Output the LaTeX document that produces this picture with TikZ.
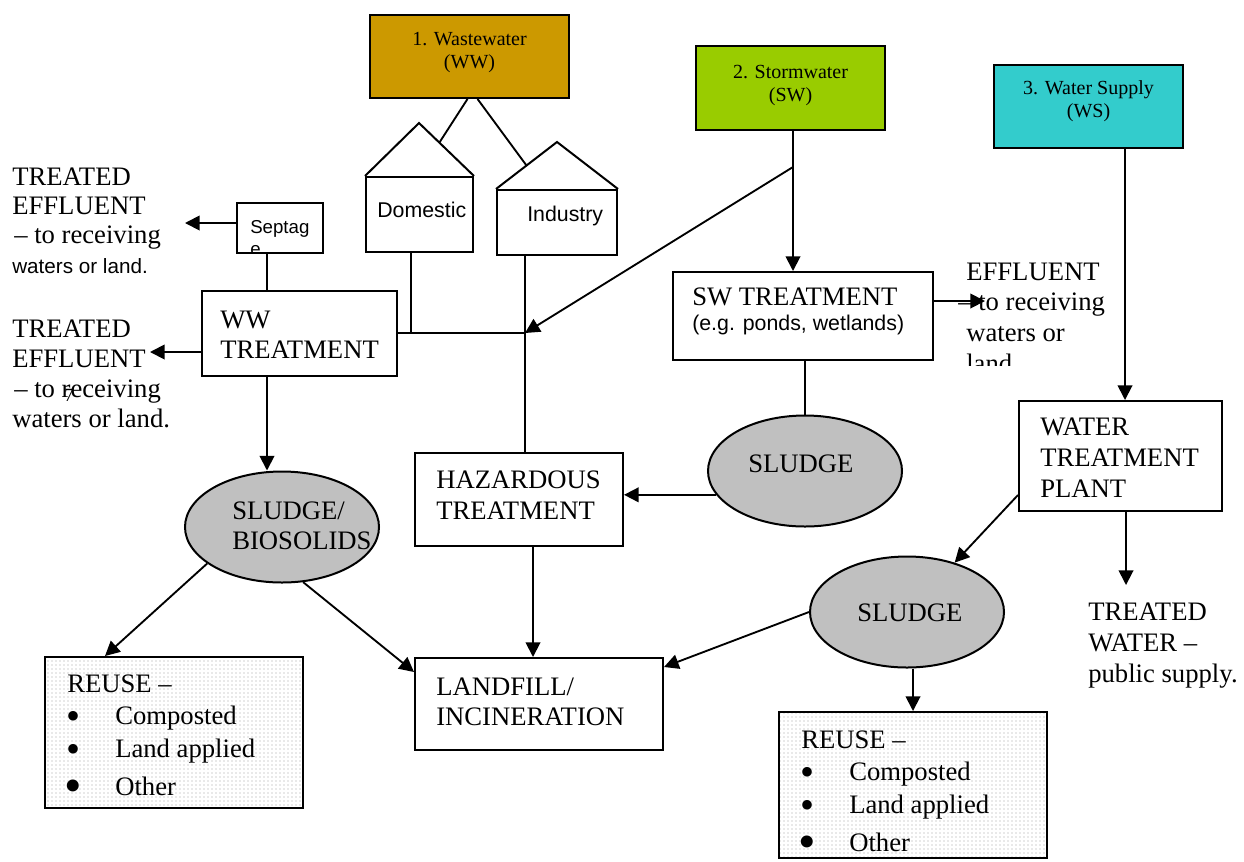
\documentclass[tikz,border=0pt]{standalone}
\usepackage{fontspec}
\setmainfont{Liberation Serif}
\setsansfont{Liberation Sans}
\usetikzlibrary{arrows.meta,shapes.geometric,patterns,fit,calc}

\definecolor{wwcol}{HTML}{CC9900}
\definecolor{swcol}{HTML}{99CC00}
\definecolor{wscol}{HTML}{33CCCC}
\definecolor{sludgegray}{HTML}{C0C0C0}

% list marker: #1 box width, #2 bullet size, #3 drop below the baseline
\newcommand\listmark[3]{\makebox[#1][l]{\raisebox{-#3}{\fontsize{#2}{#2}\selectfont •}}}

% bulleted reuse list: #1 name prefix, (#2,#3) baseline start of the heading
\newcommand\reuselist[3]{%
  \begin{scope}[shift={(#2,#3)}]
    \node[big, anchor=base west] (#1-h) at (0,0) {REUSE –};
    \node[big, anchor=base west] (#1-i1) at (-1,32) {\listmark{36.75pt}{30pt}{3.75pt}Composted};
    \node[big, anchor=base west] (#1-i2) at (-1,65) {\listmark{36.75pt}{30pt}{3.75pt}Land applied};
    \node[big, anchor=base west] (#1-i3) at (-3,103) {\listmark{38.25pt}{37.5pt}{5.25pt}Other};
  \end{scope}}

\begin{document}
\begin{tikzpicture}[x=0.75pt,y=-0.75pt,
  boxline/.style={line width=1.5pt},
  conn/.style={line width=1.4pt},
  arr/.style={conn,-{Triangle[length=11pt,width=11pt]}},
  pbox/.style={draw,boxline,rectangle,inner sep=0pt},
  dotted box/.style={pbox,pattern=dots,pattern color=gray!75},
  blob/.style={draw,boxline,ellipse,fill=sludgegray,inner sep=0pt,
               minimum width=145.5pt,minimum height=83.25pt},
  big/.style={font=\fontsize{20}{22.5}\selectfont,inner sep=0pt,align=left},
  src/.style={font=\fontsize{15}{17.25}\selectfont,inner sep=0pt,align=center},
  sans/.style={font=\sffamily\fontsize{16}{19}\selectfont,inner sep=0pt,align=left},
]
\useasboundingbox (0,0) rectangle (1244,861);
% note: the base anchor of a multi-line label sits on its last line

% ---- sources ----
\node[pbox, fill=wwcol, fit={(370,15) (569,98)}] (ww) {};
\node[src, anchor=base] (wwlbl) at (469.5,68) {1. Wastewater\\(WW)};
\node[pbox, fill=swcol, fit={(696,46) (885,130)}] (sw) {};
\node[src, anchor=base] (swlbl) at (790.5,101) {2. Stormwater\\(SW)};
\node[pbox, fill=wscol, fit={(994,65) (1183,148)}] (ws) {};
\node[src, anchor=base] (wslbl) at (1088.5,117) {3. Water Supply\\(WS)};

% ---- houses ----
\node[pbox, fit={(366,177) (473,252)}] (dom) {};
\coordinate (domApex) at (419,123);
\draw[boxline] (dom.north west) -- (domApex) -- (dom.north east);
\node[sans, anchor=base west] (domlbl) at (377,217) {Domestic};

\node[pbox, fit={(497,190) (617,255)}] (ind) {};
\coordinate (indApex) at (557,142);
\draw[boxline] (ind.north west) -- (indApex) -- (ind.north east);
\node[sans, anchor=base west] (indlbl) at (527,221) {Industry};

\coordinate (domRoof) at ($(domApex)!0.37!(dom.north east)$);
\coordinate (indRoof) at ($(ind.north west)!0.5!(indApex)$);
\draw[conn] ($(ww.south west)!0.49!(ww.south east)$) -- (domRoof);
\draw[conn] ($(ww.south west)!0.54!(ww.south east)$) -- (indRoof);

% ---- septage and wastewater treatment ----
\node[pbox, fit={(237,203) (323,253)}] (sep) {};
\begin{scope}
  \clip ($(sep.north west)+(2,2)$) rectangle ($(sep.south east)+(-2,-3)$);
  \node[font=\sffamily\fontsize{14}{16.8}\selectfont, inner sep=0pt, align=left,
        anchor=base west] (seplbl) at (250,255.4) {Septag\\e};
\end{scope}

\node[pbox, fit={(202,291) (397,376)}] (wwt) {};
\node[big, anchor=base west, font=\fontsize{20}{22}\selectfont] (wwtlbl) at (220,358) {WW\\TREATMENT};

\node[big, anchor=base west, font=\fontsize{20}{22}\selectfont] (eff1) at (12,273)
  {TREATED\\EFFLUENT\\\hspace{1.5pt}– to receiving\\{\sffamily\fontsize{15.5}{22}\selectfont waters or land.}};
\node[big, anchor=base west] (eff2) at (12,427)
  {TREATED\\EFFLUENT\\\hspace{1.5pt}– to receiving\\waters or land.};
\node[font=\fontsize{14}{14}\selectfont, inner sep=0pt, anchor=base west] (stray) at (64,401) {7};

\coordinate (eff1tip) at (185,223);
\coordinate (eff2tip) at (150,352);
\coordinate (sx) at (267,0);
\draw[arr] (sep.west |- eff1tip) -- (eff1tip);
\draw[arr] (wwt.west |- eff2tip) -- (eff2tip);
\draw[conn] (sep.south -| sx) -- (wwt.north -| sx);

% ---- stormwater treatment ----
\node[pbox, fit={(673,272) (933,360)}] (swt) {};
\node[big, anchor=base west] (swtlbl) at (692,305) {SW TREATMENT};
\node[sans, anchor=base west] (swtnote) at (692,330) {(e.g. ponds, wetlands)};

\begin{scope}
  \clip (950,255) rectangle (1130,365);
  \node[big, anchor=base west, font=\fontsize{20}{23}\selectfont] (eff3) at (966,372)
    {EFFLUENT\\\hspace{-6pt}– to receiving\\waters or\\land.};
\end{scope}
\coordinate (eff3tip) at (985,301);
\draw[arr] (swt.east |- eff3tip) -- (eff3tip);

% ---- junction of the wastewater streams ----
\coordinate (j1) at (411,333);
\coordinate (j2) at (525,333);
\coordinate (swb) at (793,167);

\node[pbox, fit={(415,453) (623,546)}] (haz) {};
\node[big, anchor=base west, font=\fontsize{20}{23}\selectfont] (hazlbl) at (436,519) {HAZARDOUS\\TREATMENT};

\draw[conn] (dom.south -| j1) -- (j1);
\draw[conn] (wwt.east |- j1) -- (j2);
\draw[conn] (ind.south -| j2) -- (haz.north -| j2);
\draw[arr] (swb) -- (j2);
\draw[arr] (sw.south -| swb) -- (swt.north -| swb);

% ---- sludges ----
\node[blob] (bio) at (282,527) {};
\node[big, anchor=base west] (biolbl) at (232,549) {SLUDGE/\\BIOSOLIDS};
\draw[arr] (wwt.south -| sx) -- (bio.north -| sx);

\node[blob] (swsl) at (805,471) {};
\node[big, anchor=base west] (swsllbl) at (748,472) {SLUDGE};
\draw[conn] (swt.south -| swsl.north) -- (swsl.north);
\draw[arr] (swsl.195) -- (swsl.195 -| haz.east);

% ---- landfill ----
\node[pbox, fit={(415,658) (663,750)}] (lf) {};
\node[big, anchor=base west, font=\fontsize{20}{22}\selectfont] (lflbl) at (436,725) {LANDFILL/\\INCINERATION};
\coordinate (hx) at (533,0);
\draw[arr] (haz.south -| hx) -- (lf.north -| hx);
\draw[arr] (bio.291) -- ($(lf.north west)+(0,15)$);

% ---- reuse (wastewater) ----
\node[dotted box, fit={(45,657) (303,808)}] (r1) {};
\reuselist{ra}{67}{692}
\coordinate (r1x) at (105,0);
\draw[arr] (bio.206) -- (r1.north -| r1x);

% ---- water supply ----
\node[pbox, fit={(1019,401) (1222,511)}] (wtp) {};
\node[big, anchor=base west, font=\fontsize{20}{23}\selectfont] (wtplbl) at (1040,497) {WATER\\TREATMENT\\PLANT};
\coordinate (wx) at (1125,0);
\draw[arr] (ws.south -| wx) -- (wtp.north -| wx);

\node[big, anchor=base west, font=\fontsize{20}{23}\selectfont] (tw) at (1088,682) {TREATED\\WATER –\\public supply.};
\coordinate (twtip) at (1126,585);
\draw[arr] (wtp.south -| twtip) -- (twtip);

\node[blob] (wssl) at (907,612) {};
\node[big, anchor=base west] (wsslbl) at (857,621) {SLUDGE};
\coordinate (wtpy) at (0,495);
\draw[arr] (wtp.west |- wtpy) -- (wssl.46);
\draw[arr] (wssl.west) -- ($(lf.north east)+(0,10)$);

% ---- reuse (water supply) ----
\node[dotted box, fit={(779,712) (1047,858)}] (r2) {};
\reuselist{rb}{801}{748}
\draw[arr] (wssl.south -| r2.north) -- (r2.north);

\end{tikzpicture}
\end{document}
